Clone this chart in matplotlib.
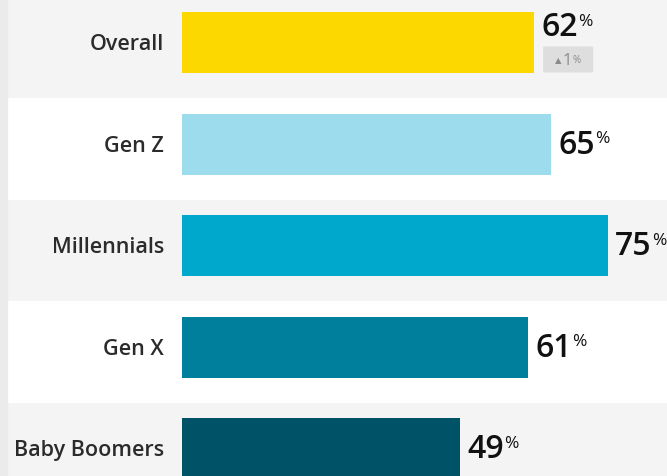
import matplotlib.pyplot as plt
from matplotlib.patches import FancyBboxPatch, Rectangle

groups = ['Overall', 'Gen Z', 'Millennials', 'Gen X', 'Baby Boomers']
values = [62, 65, 75, 61, 49]
colors = ['#fdd800', '#9ddcec', '#00a8cc', '#007f9c', '#005366']
change = 1  # change of the overall figure, in points

plt.rcParams['font.family'] = ['Open Sans', 'DejaVu Sans']

W, H = 667, 477
px = 5.68          # pixels per percent
x0 = 182           # left edge of the bars, px
row_h = 101.6
top = 43.5

fig = plt.figure(figsize=(W / 100, H / 100), dpi=100)
ax = fig.add_axes([0, 0, 1, 1])
ax.set_xlim(-x0 / px, (W - x0) / px)
ax.set_ylim(H, 0)
ax.axis('off')

centers = [top + row_h * i for i in range(len(groups))]

# alternating row bands and the thin strip on the left
for i, yc in enumerate(centers):
    ax.axhspan(yc - 46, yc + 55.6, xmin=7 / W, xmax=1,
               color='#f4f4f4' if i % 2 == 0 else 'white', zorder=0, lw=0)
fig.patches.append(Rectangle((0, 0), 7 / W, 1, transform=fig.transFigure,
                             color='#ebebeb', zorder=0))

ax.barh(centers, values, height=61, color=colors, zorder=2)

for i, (g, v, yc) in enumerate(zip(groups, values, centers)):
    ax.text(-18 / px, yc + 1, g, ha='right', va='center', fontsize=15.5,
            fontweight='semibold', color='#2b2b2b')
    ty = yc - 16 if i == 0 else yc
    num = ax.text(v + 7 / px, ty, str(v), ha='left', va='center',
                  fontsize=23, fontweight='semibold', color='#111111')
    ax.annotate('%', xy=(1, 0.92), xycoords=num, xytext=(0.3, 0),
                textcoords='offset points', ha='left', va='top',
                fontsize=12.5, color='#111111')

# change badge under the overall value
bx = values[0] + 9 / px
badge = FancyBboxPatch((bx, centers[0] + 4), 50 / px, 26,
                       boxstyle='round,pad=0,rounding_size=0.5',
                       fc='#dedede', ec='none', zorder=3)
ax.add_patch(badge)
ax.text(bx + 15 / px, centers[0] + 17, '\u25b2', ha='center', va='center',
        fontsize=6, color='#8a8a8a', family=['DejaVu Sans'], zorder=4)
chg = ax.text(bx + 19.5 / px, centers[0] + 17.5, str(change), ha='left',
              va='center', fontsize=12, color='#8a8a8a', zorder=4)
ax.annotate('%', xy=(1, 0.85), xycoords=chg, xytext=(0.2, 0),
            textcoords='offset points', ha='left', va='top',
            fontsize=7, color='#8a8a8a', zorder=4)

plt.savefig('out.png', dpi=100)
